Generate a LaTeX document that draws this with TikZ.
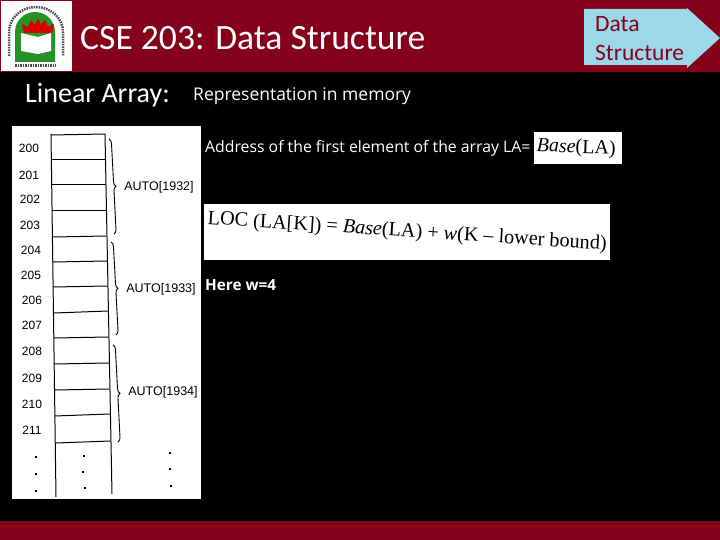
\documentclass[tikz,border=0pt]{standalone}
\usepackage{fontspec}
\setmainfont{Carlito}
\newfontfamily\bodyfont{Open Sans}
\newfontfamily\scanfont{Liberation Sans}
\newfontfamily\mathfont{Liberation Serif}
\usetikzlibrary{calc,positioning,decorations.pathreplacing}
\definecolor{bandred}{HTML}{85001A}
\definecolor{arrowblue}{HTML}{9DD7EA}
\begin{document}
\begin{tikzpicture}[x=1pt,y=-1pt,
  addr/.style={font=\fontsize{12}{14}\scanfont, text=black, inner sep=0pt},
  auto/.style={font=\fontsize{12.5}{14}\scanfont, text=black, inner sep=0pt},
  speck/.style={fill=black, inner sep=0pt, minimum size=1.8pt},
  brc/.style={draw=black, line width=0.9pt, decorate, decoration={brace, amplitude=4.5pt}},
  cell/.style={draw=black, line width=1pt},
  whitebox/.style={fill=white, inner sep=0pt, anchor=north west}]
\useasboundingbox (0,0) rectangle (720,540);
\fill[black] (0,0) rectangle (720,540);
% bands
\fill[bandred] (0,0) rectangle (720,72);
\fill[bandred] (0,521) rectangle (720,540);
% logo
\node[whitebox, minimum width=71pt, minimum height=70pt] (logo) at (1,1) {};
\fill[green!50!black!85] (15,62) -- (15,32) arc[start angle=180, end angle=360, x radius=20, y radius=20] -- (55,62) -- cycle;
\fill[red!85!black] (24,33) -- (22,24) -- (28,27) -- (31,20) -- (35,25) -- (38,18) -- (41,25) -- (45,20) -- (48,27) -- (54,24) -- (52,33) -- cycle;
\fill[white] (21,33) -- (38,37) -- (51,33) -- (51,51) -- (38,54) -- (21,51) -- cycle;
\draw[black!70, line width=2.5pt, dash pattern=on 1.5pt off 1pt] (9,56) -- (9,32) arc[start angle=180, end angle=360, x radius=27, y radius=25] -- (63,56);
\draw[black!70, line width=3pt, dash pattern=on 1.5pt off 1pt] (15,66) -- (56,66);
% titles
\node[anchor=west, inner sep=0pt, text=white, font=\fontsize{35.6}{38}\selectfont] (title) at (80,38) {CSE 203: Data Structure};
\node[anchor=west, inner sep=0pt, text=white, font=\fontsize{28}{30}\selectfont] (sub) at (25,95) {Linear Array:};
\node[anchor=west, inner sep=0pt, text=white, font=\fontsize{17.5}{20}\bodyfont] (repr) at (193,96) {Representation in memory};
% arrow
\fill[arrowblue] (584,9) -- (687,9) -- (687,8) -- (720,38) -- (687,68) -- (687,65) -- (584,65) -- cycle;
\node[anchor=west, inner sep=0pt, text=bandred, font=\fontsize{23.5}{29}\selectfont, align=left] (tag) at (595,39) {Data\\Structure};
% scanned table
\node[whitebox, minimum width=189pt, minimum height=373pt] (scan) at (12,126) {};
\draw[cell] (51,134) -- (56,497);
\draw[cell] (105,134) -- (112,494);
\foreach \ya/\xa/\yb/\xb in {135/51/134/105,160/52/160/105,185/52/185/106,211/52/211/106,237/53/236/106,262/53/261/107,287/53/286/107,313/54/311/108,338/54/337/108,364/54/363/109,390/55/389/109,416/55/414/110,443/56/441/110}
  \draw[cell] (\xa,\ya) -- (\xb,\yb);
\foreach \val/\xa/\ya in {200/29/148,201/29/175,202/30/199,203/30/225,204/31/250,205/31/275,206/32/300,207/32/325,208/32/351,209/32/378,210/32/404,211/32/430}
  \node[addr] (a\val) at (\xa,\ya) {\val};
\draw[brc] (109,139) -- (114,234);
\draw[brc] (111,242) -- (116,335);
\draw[brc] (113,345) -- (118,442);
\node[auto] (auto1) at (159,187) {AUTO[1932]};
\node[auto] (auto2) at (161,289) {AUTO[1933]};
\node[auto] (auto3) at (163,392) {AUTO[1934]};
\foreach \xa/\ya in {36/457,36/474,36/491,84/456,83/472,85/488,170/453,170/469,171/486}
  \node[speck] at (\xa,\ya) {};
% text on the right
\node[anchor=west, inner sep=0pt, text=white, font=\fontsize{15.8}{18}\bodyfont] (addr) at (205,148) {Address of the first element of the array LA=};
\node[whitebox, minimum width=88pt, minimum height=32pt] (basebox) at (534,132) {};
\node[inner sep=0pt, text=black, rotate=-2, font=\fontsize{20}{22}\mathfont, xshift=-2pt] (base) at (basebox.center) {\textit{Base}(LA)};
\node[whitebox, minimum width=406pt, minimum height=56pt] (locbox) at (204,204) {};
\node[inner sep=0pt, text=black, rotate=-3.7, font=\fontsize{20.2}{22}\mathfont] (loc) at (locbox.center) {LOC (LA[K]) = \textit{Base}(LA) + \textit{w}(K – lower bound)};
\node[anchor=west, inner sep=0pt, text=white, font=\fontsize{15.3}{18}\bodyfont\bfseries] (here) at (205,285) {Here w=4};
\end{tikzpicture}
\end{document}
